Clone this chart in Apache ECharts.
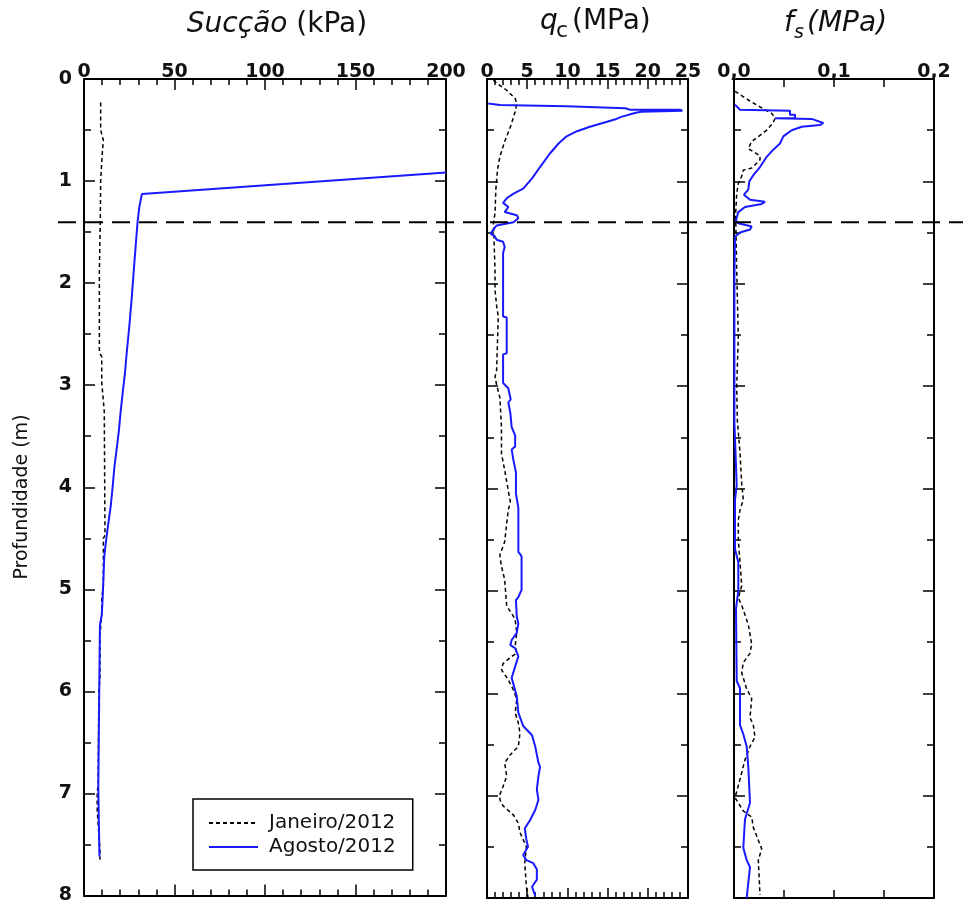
<!DOCTYPE html>
<html><head><meta charset="utf-8">
<script src="https://cdn.jsdelivr.net/npm/echarts@6/dist/echarts.min.js"></script>
<style>html,body{margin:0;padding:0;background:#fff}#c{width:963px;height:905px}</style>
</head><body><div id="c"></div>
<script>
// ---- Data (value, depth in m) ----
const legendNames = ['Janeiro/2012', 'Agosto/2012'];
const refDepth = 1.40;

const sucJanDepth = [0.23,0.5,0.6,0.7,1.0,1.4,1.87,2.68,2.72,2.97,3.26,4.47,4.5,4.96,5.09,5.25,5.45,5.87,6.0,6.9,7.0,7.17,7.55,7.65];
const sucJanVal   = [9.2,9.2,10.7,10.2,9.2,9.0,8.5,8.5,9.8,9.8,11.2,11.6,10.7,10.7,9.8,9.8,8.8,8.8,8.2,7.8,7.3,7.3,8.8,8.8];

const sucAgoDepth = [0.915,1.126,1.25,1.40,1.67,1.90,2.16,2.43,2.68,2.87,3.07,3.25,3.44,3.62,3.80,4.0,4.18,4.36,4.52,4.68,5.09,5.25,5.35,5.87,6.94,7.59,7.62];
const sucAgoVal   = [200,32.0,30.6,29.6,28.4,27.4,26.3,25.0,23.6,22.7,21.4,20.3,19.3,18.1,16.8,15.8,14.8,13.4,12.2,11.2,10.3,9.8,8.8,8.5,7.9,8.5,8.6];

const qcJanDepth = [0.01,0.04,0.11,0.19,0.24,0.32,0.47,0.61,0.76,0.89,1.08,1.31,1.41,1.57,1.87,2.06,2.22,2.32,2.84,2.91,2.99,3.11,3.40,3.66,3.82,4.02,4.13,4.21,4.34,4.52,4.65,4.76,4.89,5.06,5.15,5.22,5.28,5.41,5.54,5.61,5.64,5.71,5.77,5.87,5.97,6.06,6.19,6.29,6.39,6.52,6.60,6.68,6.81,6.91,6.99,7.04,7.10,7.19,7.27,7.36,7.50,7.66,7.89,8.0];
const qcJanVal   = [0.8,1.2,2.45,3.5,3.7,3.5,2.9,2.2,1.6,1.3,1.1,1.0,0.8,0.87,1.0,1.0,1.2,1.4,1.2,1.0,1.2,1.6,1.8,1.8,2.2,2.65,2.9,2.65,2.45,2.2,1.6,1.8,2.2,2.36,2.45,3.07,3.5,3.7,3.5,3.7,3.07,2.0,1.8,2.65,3.3,3.7,3.5,3.9,4.1,3.9,2.9,2.2,2.45,2.0,1.6,1.6,2.0,3.3,3.9,4.1,4.9,4.7,4.9,5.1];

const qcAgoDepth = [0.24,0.255,0.265,0.285,0.30,0.30,0.31,0.32,0.33,0.37,0.39,0.466,0.51,0.56,0.63,0.73,0.86,0.97,1.07,1.12,1.165,1.21,1.25,1.30,1.33,1.36,1.40,1.43,1.47,1.51,1.54,1.57,1.59,1.64,1.70,2.32,2.33,2.68,2.69,2.97,3.02,3.13,3.16,3.26,3.40,3.48,3.59,3.62,3.73,3.84,4.05,4.19,4.62,4.66,4.99,5.06,5.09,5.25,5.32,5.41,5.48,5.53,5.56,5.64,5.74,5.85,5.97,6.03,6.19,6.32,6.41,6.52,6.68,6.72,6.81,6.94,7.04,7.14,7.24,7.32,7.43,7.50,7.58,7.63,7.66,7.72,7.82,7.89,7.98];
const qcAgoVal   = [0.16,1.6,9.9,17.2,17.8,24.0,24.3,19.2,18.5,16.7,16.1,12.8,11.2,9.9,8.9,7.8,6.6,5.6,4.5,3.3,2.45,2.0,2.65,2.2,3.7,3.9,3.3,1.2,0.8,0.46,1.0,1.2,2.0,2.2,2.0,2.0,2.45,2.45,2.0,2.0,2.65,2.95,2.65,2.9,3.07,3.5,3.5,3.07,3.3,3.6,3.6,3.9,3.9,4.3,4.3,3.9,3.6,3.7,3.9,3.7,3.07,2.9,3.5,3.9,3.5,3.07,3.5,3.7,3.9,4.5,5.6,6.0,6.4,6.6,6.4,6.2,6.4,6.0,5.35,4.7,4.9,5.1,4.5,4.9,5.75,6.2,6.2,5.6,6.0];

const fsJanDepth = [0.12,0.205,0.29,0.335,0.384,0.43,0.50,0.55,0.61,0.68,0.71,0.75,0.79,0.87,0.89,0.95,1.02,1.12,1.31,1.51,1.87,2.52,3.0,3.33,3.65,3.95,4.11,4.21,4.31,4.50,4.72,4.95,5.07,5.14,5.33,5.52,5.61,5.70,5.80,5.96,6.05,6.24,6.31,6.43,6.52,6.65,6.84,6.96,7.02,7.15,7.21,7.31,7.52,7.63,7.97];
const fsJanVal   = [0.001,0.0143,0.029,0.0377,0.041,0.039,0.0327,0.026,0.0177,0.0143,0.0193,0.026,0.026,0.0177,0.0093,0.0077,0.0043,0.0027,0.0017,0.002,0.0027,0.0043,0.0027,0.0033,0.006,0.0077,0.0093,0.006,0.0043,0.0043,0.006,0.0077,0.0043,0.0077,0.0143,0.0177,0.016,0.0093,0.0077,0.0127,0.0177,0.016,0.0193,0.021,0.016,0.011,0.006,0.0027,0.001,0.0093,0.0177,0.0193,0.0277,0.0243,0.026];

const fsAgoDepth = [0.25,0.30,0.31,0.35,0.35,0.384,0.384,0.39,0.43,0.45,0.466,0.50,0.56,0.63,0.69,0.76,0.86,0.94,1.00,1.08,1.13,1.18,1.20,1.22,1.25,1.30,1.38,1.41,1.44,1.47,1.50,1.54,1.96,3.35,3.36,3.97,4.11,4.59,4.72,5.0,5.17,5.88,5.95,6.31,6.40,6.52,6.72,7.07,7.23,7.51,7.63,7.70,7.85,8.0];
const fsAgoVal   = [0.001,0.006,0.056,0.056,0.061,0.061,0.041,0.0777,0.0893,0.086,0.0677,0.0577,0.0493,0.046,0.0393,0.0327,0.026,0.0193,0.0153,0.0143,0.010,0.016,0.031,0.0277,0.011,0.0043,0.002,0.0043,0.0177,0.016,0.006,0.001,0.0004,0.0004,0.002,0.0027,0.001,0.001,0.0043,0.0043,0.002,0.0027,0.006,0.006,0.0093,0.0127,0.0143,0.016,0.011,0.0093,0.0127,0.016,0.0143,0.0127];

const depthTicks = [0,1,2,3,4,5,6,7,8];

// ---- Build chart ----
const FONT = "'DejaVu Sans', sans-serif";
const BLUE = '#1a1aff';
const pair = (vals, deps) => vals.map((v, i) => [v, deps[i]]);

const panels = [
  {left: 84, width: 362, min: 0, max: 200, interval: 50, minor: 5, majorLen: 11, minorLen: 6, fmt: v => String(v)},
  {left: 487, width: 201, min: 0, max: 25, interval: 5, minor: 5, majorLen: 10, minorLen: 6, fmt: v => String(v)},
  {left: 734, width: 200, min: 0, max: 0.2, interval: 0.05, minor: 0, majorLen: 8, minorLen: 0,
   fmt: v => (Math.round(v * 100) % 10 === 0) ? v.toFixed(1).replace('.', ',') : ''}
];
const TOP = 79, HEIGHT = 819;

const grid = [], xAxis = [], yAxis = [];
const lineAx = {show: true, onZero: false, lineStyle: {color: '#000', width: 2}};
const labelStyle = {color: '#111', fontFamily: FONT, fontWeight: 'bold', fontSize: 19};

panels.forEach((p, i) => {
  grid.push({left: p.left, top: TOP, width: p.width, height: HEIGHT});
  const baseX = {
    type: 'value', gridIndex: i, min: p.min, max: p.max, interval: p.interval,
    axisLine: lineAx, splitLine: {show: false},
    axisTick: {show: true, inside: true, length: p.majorLen, lineStyle: {color: '#000', width: 1.5}},
    minorTick: {show: p.minor > 0, splitNumber: p.minor || 5, length: p.minorLen, lineStyle: {color: '#000', width: 1.5}},
    minorSplitLine: {show: false}
  };
  xAxis.push(Object.assign({}, baseX, {position: 'top',
    axisLabel: Object.assign({show: true, margin: -3, formatter: p.fmt, showMinLabel: true, showMaxLabel: true}, labelStyle)}));
  xAxis.push(Object.assign({}, baseX, {position: 'bottom', axisLabel: {show: false}}));
  const baseY = {
    type: 'value', gridIndex: i, min: 0, max: 8, interval: 1, inverse: true,
    axisLine: lineAx, splitLine: {show: false},
    axisTick: {show: true, inside: true, length: 11, lineStyle: {color: '#000', width: 1.5}},
    minorTick: {show: true, splitNumber: 2, length: 7, lineStyle: {color: '#000', width: 1.5}},
    minorSplitLine: {show: false}
  };
  yAxis.push(Object.assign({}, baseY, {position: 'left',
    axisLabel: Object.assign({show: i === 0, margin: 12, formatter: v => depthTicks.includes(v) ? String(v) : ''}, labelStyle)}));
  yAxis.push(Object.assign({}, baseY, {position: 'right', axisLabel: {show: false}}));
});

// overlay grid for the horizontal reference line
grid.push({left: 58, right: 0, top: TOP, height: HEIGHT});
xAxis.push({type: 'value', gridIndex: 3, min: 0, max: 1, show: false});
yAxis.push({type: 'value', gridIndex: 3, min: 0, max: 8, inverse: true, show: false});

const janStyle = {color: '#000', width: 1.5, type: [4, 3]};
const agoStyle = {color: BLUE, width: 2, type: 'solid'};
function mk(name, idx, data, ls, z) {
  return {type: 'line', name: name, xAxisIndex: idx * 2, yAxisIndex: idx * 2, data: data,
    symbol: 'none', showSymbol: false, lineStyle: ls, itemStyle: {color: ls.color},
    clip: true, animation: false, silent: true, z: z};
}
const series = [
  mk(legendNames[0], 0, pair(sucJanVal, sucJanDepth), janStyle, 2),
  mk(legendNames[1], 0, pair(sucAgoVal, sucAgoDepth), agoStyle, 3),
  mk(legendNames[0], 1, pair(qcJanVal, qcJanDepth), janStyle, 2),
  mk(legendNames[1], 1, pair(qcAgoVal, qcAgoDepth), agoStyle, 3),
  mk(legendNames[0], 2, pair(fsJanVal, fsJanDepth), janStyle, 2),
  mk(legendNames[1], 2, pair(fsAgoVal, fsAgoDepth), agoStyle, 3),
  {type: 'line', name: 'ref', xAxisIndex: 6, yAxisIndex: 6, data: [[0, refDepth], [1, refDepth]],
   symbol: 'none', lineStyle: {color: '#000', width: 2, type: [18, 9]}, animation: false, silent: true, z: 4}
];

const titleBase = {fill: '#111', fontFamily: FONT, fontSize: 28};
const graphic = [
  {type: 'text', x: 277, y: 25, style: Object.assign({}, titleBase, {
    text: '{i|Sucção} (kPa)', align: 'center', verticalAlign: 'middle',
    rich: {i: {fontStyle: 'italic', fontFamily: FONT, fontSize: 28, fill: '#111'}}})},
  {type: 'text', x: 540, y: 22, style: Object.assign({}, titleBase, {text: 'q', fontStyle: 'italic', align: 'left', verticalAlign: 'middle'})},
  {type: 'text', x: 556, y: 31, style: Object.assign({}, titleBase, {text: 'c', fontSize: 22, align: 'left', verticalAlign: 'middle'})},
  {type: 'text', x: 572, y: 22, style: Object.assign({}, titleBase, {text: '(MPa)', align: 'left', verticalAlign: 'middle'})},
  {type: 'text', x: 784, y: 24, style: Object.assign({}, titleBase, {text: 'f', fontStyle: 'italic', align: 'left', verticalAlign: 'middle'})},
  {type: 'text', x: 794, y: 33, style: Object.assign({}, titleBase, {text: 's', fontStyle: 'italic', fontSize: 19, align: 'left', verticalAlign: 'middle'})},
  {type: 'text', x: 807, y: 24, style: Object.assign({}, titleBase, {text: '(MPa)', fontStyle: 'italic', align: 'left', verticalAlign: 'middle'})},
  {type: 'text', x: 22, y: 497, rotation: Math.PI / 2, style: {text: 'Profundidade (m)', fill: '#111',
    fontFamily: FONT, fontSize: 19, align: 'center', verticalAlign: 'middle'}}
];

const chart = echarts.init(document.getElementById('c'), null, {renderer: 'canvas'});
chart.setOption({
  animation: false,
  backgroundColor: '#fff',
  grid: grid, xAxis: xAxis, yAxis: yAxis, series: series, graphic: graphic,
  legend: {
    data: legendNames, orient: 'vertical', left: 193, top: 799,
    padding: [14, 17, 13, 15], itemGap: 4, itemWidth: 49, itemHeight: 14,
    borderColor: '#000', borderWidth: 1.5, backgroundColor: '#fff',
    selectedMode: false,
    itemStyle: {opacity: 0},
    textStyle: {fontFamily: FONT, fontSize: 20, color: '#111', padding: [0, 0, 0, 6]}
  }
});
</script></body></html>
